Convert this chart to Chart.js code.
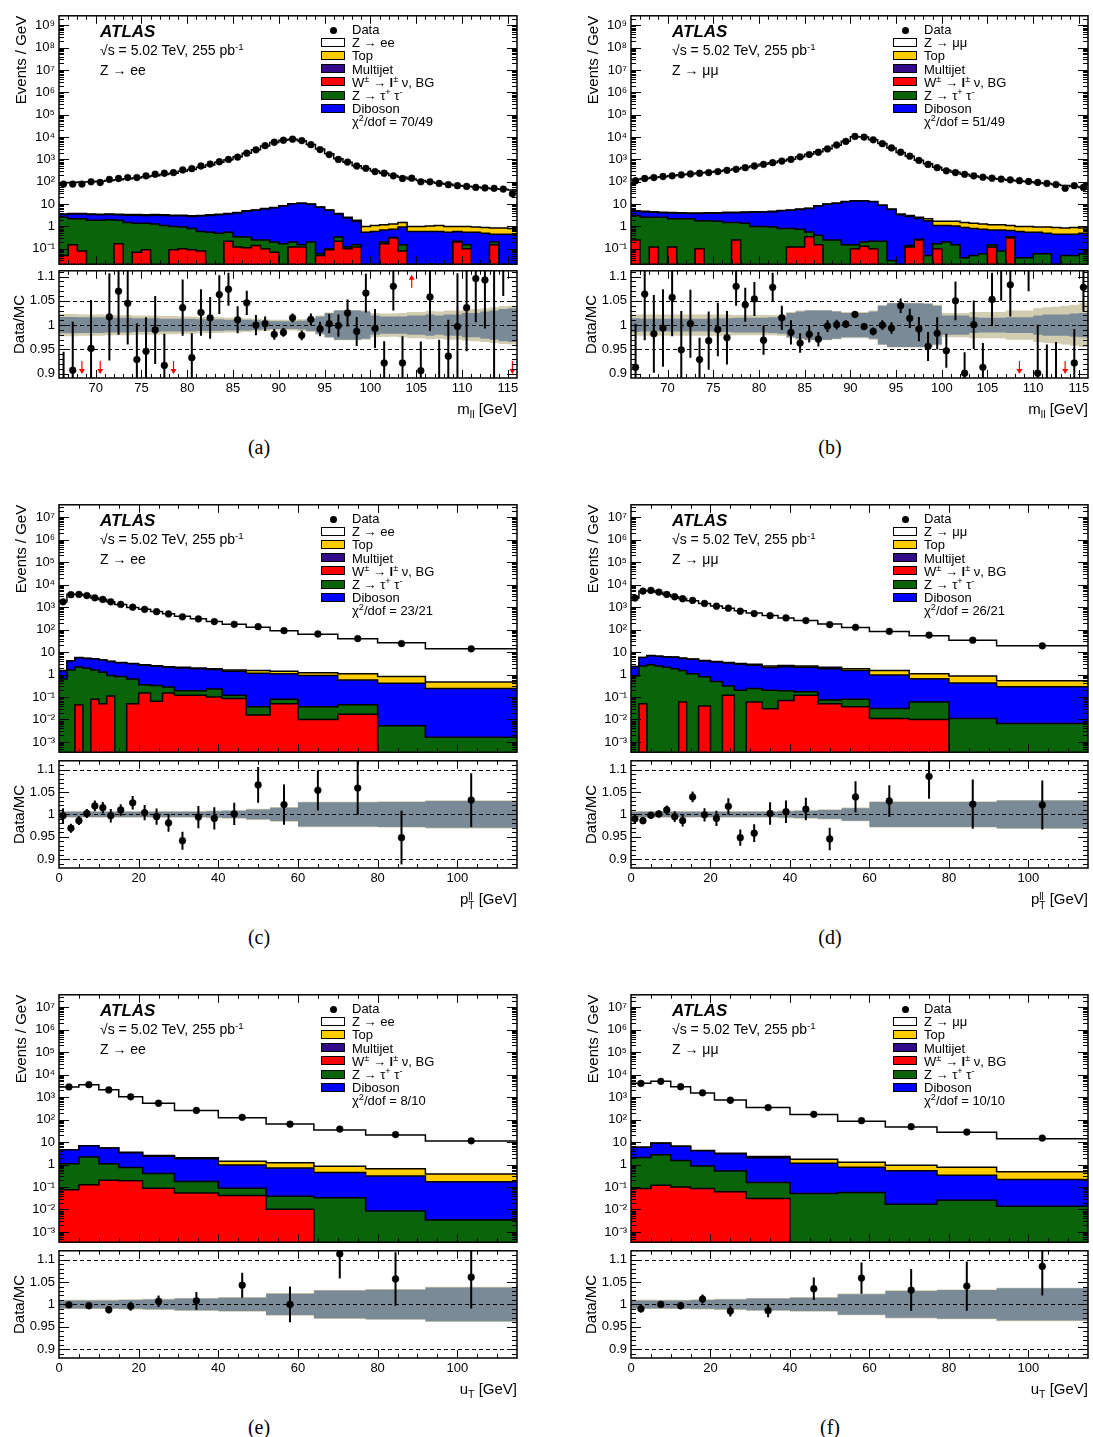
<!DOCTYPE html>
<html>
<head>
<meta charset="utf-8">
<title>Z boson control distributions</title>
<script src="https://cdn.jsdelivr.net/npm/chart.js@4.4.1/dist/chart.umd.min.js"></script>
<style>
  body { margin: 0; width: 1093px; height: 1437px; position: relative; background: #fff; overflow: hidden;
         font-family: "Liberation Sans", Arial, Helvetica, sans-serif; color: #000; }
  canvas { position: absolute; }
  .t { position: absolute; white-space: nowrap; }
  .t sup { font-size: 70%; vertical-align: 0.5em; line-height: 0; }
  .t sub { font-size: 70%; vertical-align: -0.35em; line-height: 0; }
  .box { position: absolute; width: 22px; height: 7px; border: 1.5px solid #000; }
  .dot { position: absolute; width: 7px; height: 7px; border-radius: 50%; background: #000; }
</style>
</head>
<body>
<script>
// bin edges
const massEdges = [66,67,68,69,70,71,72,73,74,75,76,77,78,79,80,81,82,83,84,85,86,87,88,89,90,91,92,93,94,95,96,97,98,99,100,101,102,103,104,105,106,107,108,109,110,111,112,113,114,115,116];
const ptEdges = [0,2,4,6,8,10,12,14,17,20,23,26,29,33,37,41,47,53,60,70,80,92,115];
const utEdges = [0,5,10,15,21,29,40,52,64,77,92,115];

// (a) Z->ee, m_ll
const dataA = [79,79,79,100,93,127,140,155,155,184, 218,241,258,338,388,508,622,787,1000,1270, 1900,2690,4150,5870,7230,8120,6960,4590,2760,1660, 1000,762,508,400,286,241,184,140,145,100, 100,84,74,67,62,56,53,51,47,29];
const zA = [88,90,93,97,102,110,120,132,146,163, 183,208,240,290,350,445,565,740,970,1300, 1870,2720,3980,5700,7300,8000,6900,4700,2900,1780, 1080,740,515,390,300,240,192,158,132,112, 97,85,76,68,62,57,52,48,45,42];
const topA = [0.2,0.2,0.2,0.2,0.2,0.2,0.2,0.2,0.2,0.2, 0.2,0.2,0.2,0.2,0.2,0.2,0.2,0.2,0.2,0.2, 0.2,0.2,0.2,0.2,0.2,0.2,0.2,0.2,0.2,0.2, 0.2,0.2,0.25,0.45,0.5,0.5,0.55,0.55,0.4,0.4, 0.45,0.5,0.45,0.4,0.45,0.4,0.4,0.4,0.4,0.35];
const wA = [0.05,0.15,0.08,0,0,0,0.17,0,0.07,0.09, 0,0,0.09,0.1,0.09,0.08,0,0,0.22,0.12, 0.11,0.14,0.1,0.07,0,0.12,0.12,0,0.05,0.09, 0.22,0.1,0.12,0,0,0.17,0.3,0.08,0,0, 0,0,0,0.2,0.1,0,0,0.15,0,0];
const tauA = [2.55,2.05,2.12,1.9,1.9,2.0,1.73,1.5,1.33,1.31, 1.3,1.1,0.91,0.85,0.71,0.52,0.55,0.5,0.33,0.23, 0.23,0.11,0.15,0.13,0.17,0.08,0.03,0.2,0.01,0.01, 0.12,0.02,0.03,0.02,0.02,0.03,0.02,0.07,0.02,0.02, 0.02,0.02,0.02,0.02,0.05,0.02,0.02,0.05,0.02,0.02];
const dibA = [0.8,1.4,1.4,1.5,1.4,1.4,1.4,1.7,1.8,1.7, 1.9,2.0,2.0,2.05,2.0,2.3,2.55,2.8,3.05,3.65, 4.46,5.05,5.85,6.6,8.13,10.1,10.65,9.6,7.24,5.2, 3.26,2.28,1.5,0.53,0.58,0.5,0.43,0.8,0.58,0.58, 0.58,0.58,0.53,0.38,0.4,0.53,0.48,0.25,0.43,0.43];
const ratioA = [0.86,0.907,0.82,0.952,0.82,1.017,1.07,1.045,0.929,0.946, 0.99,0.917,0.82,1.036,0.933,1.026,1.015,1.063,1.074,1.011, 1.046,1.0,1.003,0.981,0.985,1.015,0.979,1.012,0.992,1.003, 0.999,1.025,0.987,1.066,0.993,0.922,1.08,0.922,1.2,0.906, 1.058,0.86,0.936,0.997,1.036,1.096,1.093,0.88,1.2,0.8];
const ratioErrA = [0.085,0.1,0.05,0.1,0.05,0.09,0.09,0.085,0.075,0.07, 0.07,0.065,0.05,0.058,0.05,0.048,0.043,0.04,0.034,0.028, 0.025,0.021,0.015,0.011,0.009,0.009,0.01,0.012,0.015,0.02, 0.023,0.028,0.03,0.04,0.04,0.045,0.05,0.055,0.05,0.06, 0.07,0.11,0.075,0.11,0.09,0.09,0.1,0.25,0.14,0.05];
const innerBandA = [0.017,0.017,0.016,0.016,0.016,0.015,0.015,0.015,0.014,0.014, 0.014,0.013,0.013,0.013,0.013,0.012,0.012,0.012,0.011,0.011, 0.011,0.01,0.009,0.008,0.008,0.008,0.009,0.012,0.018,0.025, 0.03,0.03,0.03,0.028,0.02,0.018,0.018,0.018,0.02,0.02, 0.022,0.02,0.022,0.022,0.025,0.025,0.028,0.03,0.033,0.035];
const outerBandA = [0.023,0.023,0.022,0.022,0.022,0.021,0.021,0.021,0.02,0.02, 0.02,0.019,0.019,0.018,0.018,0.017,0.017,0.016,0.015,0.015, 0.014,0.013,0.012,0.011,0.011,0.011,0.012,0.014,0.02,0.026, 0.031,0.031,0.031,0.03,0.025,0.024,0.024,0.025,0.027,0.027, 0.029,0.028,0.03,0.03,0.032,0.033,0.035,0.037,0.039,0.04];

// (b) Z->mumu, m_ll
const dataB = [111,140,155,172,184,204,225,241,258,286, 327,362,429,508,602,714,846,1000,1310,1660, 2100,2970,4430,6420,10700,10000,7590,5100,3270,2100, 1400,900,600,430,310,258,215,184,160,145, 132,122,112,103,93,84,75,51,67,56];
const zB = [120,135,150,165,182,200,220,240,262,292, 325,370,430,505,600,715,850,1020,1300,1680, 2200,3000,4300,6500,10400,10000,7600,5100,3250,2050, 1380,910,640,450,330,265,215,182,158,140, 128,116,106,98,90,82,74,67,61,55];
const topB = [0.2,0.2,0.2,0.2,0.2,0.2,0.2,0.2,0.2,0.2, 0.2,0.2,0.2,0.2,0.2,0.2,0.2,0.2,0.2,0.2, 0.2,0.2,0.2,0.2,0.2,0.2,0.2,0.2,0.2,0.25, 0.3,0.35,0.4,0.6,0.6,0.65,0.6,0.6,0.55,0.5, 0.5,0.45,0.4,0.45,0.4,0.45,0.45,0.4,0.45,0.35];
const wB = [0.25,0,0.12,0,0.12,0,0,0.1,0,0, 0,0.25,0,0,0,0,0,0.12,0.12,0.35, 0.15,0,0,0,0.1,0.13,0.1,0,0,0, 0.12,0.25,0,0.1,0,0,0,0,0,0.12, 0,0.3,0,0,0,0,0,0,0,0];
const tauB = [2.85,2.6,2.48,2.6,2.08,2.2,2.2,1.7,1.8,1.7, 1.5,1.25,1.4,1.0,1.0,0.95,0.8,0.68,0.63,0.21, 0.25,0.25,0.25,0.15,0.05,0.07,0.12,0.22,0.03,0.02, 0.02,0.02,0.05,0.07,0.2,0.15,0.04,0.05,0.06,0.03, 0.08,0.05,0.04,0.04,0.06,0.06,0.02,0.05,0.05,0.06];
const dibB = [1.7,2.0,1.7,1.5,1.8,1.7,1.6,2.0,2.1,2.2, 2.6,2.6,2.8,3.3,3.4,3.65,4.2,4.5,5.05,5.74, 7.9,9.55,10.55,12.65,13.65,13.6,12.58,8.58,5.77,3.33, 2.66,1.98,1.75,0.93,0.9,0.9,0.86,0.75,0.69,0.55, 0.62,0.3,0.56,0.51,0.49,0.44,0.43,0.4,0.4,0.44];
const ratioB = [0.913,1.064,0.982,0.994,1.057,0.949,1.003,0.929,0.968,0.991, 0.974,1.08,1.042,1.054,0.969,1.078,1.015,0.985,0.963,0.981, 0.971,0.998,1.001,1.002,1.022,0.997,0.987,1.0,0.994,1.04, 1.014,0.992,0.956,0.983,0.947,1.05,0.901,1.001,0.913,1.053, 1.16,1.083,0.82,1.17,0.901,0.86,0.86,0.8,0.922,1.078];
const ratioErrB = [0.09,0.095,0.08,0.08,0.08,0.08,0.07,0.045,0.06,0.055, 0.055,0.04,0.035,0.035,0.03,0.03,0.025,0.025,0.02,0.017, 0.015,0.012,0.01,0.008,0.007,0.007,0.008,0.01,0.012,0.015, 0.02,0.025,0.03,0.033,0.035,0.04,0.043,0.05,0.05,0.055, 0.11,0.065,0.05,0.1,0.1,0.1,0.105,0.05,0.07,0.05];
const innerBandB = [0.014,0.013,0.013,0.013,0.013,0.013,0.013,0.013,0.013,0.014, 0.014,0.015,0.015,0.015,0.015,0.016,0.018,0.025,0.028,0.03, 0.03,0.03,0.028,0.025,0.025,0.025,0.028,0.04,0.045,0.045, 0.045,0.045,0.044,0.04,0.02,0.02,0.02,0.016,0.015,0.015, 0.015,0.016,0.016,0.016,0.02,0.022,0.022,0.022,0.024,0.025];
const outerBandB = [0.022,0.022,0.022,0.022,0.022,0.022,0.022,0.022,0.022,0.022, 0.022,0.021,0.021,0.021,0.021,0.021,0.022,0.027,0.03,0.031, 0.031,0.031,0.029,0.027,0.027,0.027,0.03,0.041,0.046,0.046, 0.046,0.046,0.045,0.042,0.025,0.025,0.025,0.027,0.027,0.027, 0.027,0.03,0.03,0.03,0.035,0.037,0.038,0.04,0.042,0.045];

// (c) Z->ee, pT_ll
const dataC = [1730,3600,3700,3280,2600,2200,1730,1330,1000,800,630,500,370,300,228,173,135,90,64,40,24,14];
const zC = [1735,3710,3750,3270,2550,2165,1735,1315,975,795,633,509,393,302,230,173,127,88,61,38,25,13.6];
const topC = [0.04,0.08,0.1,0.1,0.1,0.1,0.1,0.1,0.1,0.12,0.12,0.12,0.15,0.15,0.15,0.2,0.35,0.3,0.3,0.5,0.4,0.22];
const wC = [0,0,0.045,0,0.08,0.05,0.11,0,0.05,0.15,0.065,0.15,0.12,0.12,0.1,0.085,0.016,0.05,0.01,0.017,0,0];
const tauC = [0.64,1.6,2.15,1.9,1.52,1.22,0.79,0.82,0.59,0.2,0.265,0.13,0.07,0.07,0.13,0.035,0.021,0.03,0.027,0.028,0.0053,0.0016];
const dibC = [0.82,2.42,3.4,3.35,3.3,3.13,2.96,2.54,2.36,2.27,2.02,1.84,1.75,1.62,1.45,1.28,1.11,1.02,0.88,0.53,0.41,0.24];
const ratioC = [0.997,0.969,0.986,1.002,1.019,1.015,0.997,1.01,1.026,1.004,0.995,0.981,0.941,0.994,0.991,1.001,1.066,1.022,1.054,1.059,0.948,1.032];
const ratioErrC = [0.017,0.01,0.01,0.01,0.012,0.013,0.015,0.013,0.015,0.017,0.018,0.02,0.02,0.025,0.025,0.025,0.04,0.045,0.045,0.06,0.06,0.06];
const innerBandC = [0.006,0.006,0.006,0.006,0.006,0.006,0.006,0.006,0.006,0.006,0.006,0.006,0.006,0.006,0.007,0.008,0.011,0.015,0.027,0.027,0.028,0.03];
const outerBandC = [0.0075,0.0075,0.0075,0.0075,0.0075,0.0075,0.0075,0.0075,0.0075,0.0075,0.0075,0.0075,0.0075,0.0075,0.0085,0.0095,0.0125,0.0165,0.0285,0.0285,0.0295,0.0315];

// (d) Z->mumu, pT_ll
const dataD = [2530,5200,5550,4670,3680,2900,2370,2000,1460,1110,900,660,520,420,333,253,167,127,84,57,34,19];
const zD = [2550,5270,5560,4660,3640,2910,2400,1925,1460,1120,880,696,543,419,331,250,177,122,82,52,33,18.6];
const topD = [0.04,0.1,0.15,0.15,0.15,0.15,0.15,0.15,0.15,0.15,0.15,0.2,0.3,0.35,0.3,0.3,0.3,0.3,0.55,0.45,0.45,0.25];
const wD = [0,0.05,0,0,0,0,0.06,0,0.04,0,0.12,0,0.06,0.03,0.07,0.12,0.05,0.037,0.011,0.01,0,0];
const tauD = [0.87,2.35,2.7,2.4,2.1,1.8,1.44,1.1,0.76,0.49,0.19,0.2,0.18,0.17,0.12,0.05,0.024,0.043,0.02,0.05,0.011,0.0066];
const dibD = [1.39,3.3,4.25,4.05,3.95,4.05,3.75,3.65,3.25,3.16,2.94,2.7,2.36,1.85,2.01,1.93,1.73,1.42,0.92,0.59,0.41,0.28];
const ratioD = [0.99,0.986,0.998,1.001,1.01,0.995,0.986,1.039,0.999,0.991,1.018,0.948,0.958,1.002,1.006,1.012,0.945,1.039,1.03,1.085,1.023,1.021];
const ratioErrD = [0.01,0.008,0.008,0.008,0.01,0.012,0.013,0.012,0.015,0.017,0.018,0.018,0.02,0.025,0.025,0.025,0.025,0.035,0.035,0.05,0.055,0.055];
const innerBandD = [0.006,0.006,0.006,0.006,0.006,0.006,0.006,0.006,0.006,0.006,0.006,0.006,0.006,0.006,0.007,0.008,0.01,0.014,0.028,0.028,0.028,0.031];
const outerBandD = [0.0075,0.0075,0.0075,0.0075,0.0075,0.0075,0.0075,0.0075,0.0075,0.0075,0.0075,0.0075,0.0075,0.0075,0.0085,0.0095,0.0115,0.0155,0.0295,0.0295,0.0295,0.0325];

// (e) Z->ee, uT
const dataE = [2860,3600,2110,1040,535,257,127,63,38,21.6,11.4];
const zE = [2860,3600,2130,1040,528,253,121,62,33.5,20,10.7];
const topE = [0.05,0.08,0.1,0.12,0.15,0.2,0.45,0.5,0.4,0.35,0.21];
const wE = [0.076,0.125,0.2,0.19,0.089,0.054,0.042,0.0102,0,0,0];
const tauE = [1.02,2.07,0.9,0.55,0.31,0.12,0.047,0.029,0.033,0.0085,0.0034];
const dibE = [3.45,4.6,4.3,2.64,1.95,1.63,0.86,0.66,0.41,0.3,0.17];
const ratioE = [0.999,0.997,0.988,0.996,1.007,1.008,1.043,1.0,1.113,1.057,1.061];
const ratioErrE = [0.007,0.006,0.008,0.01,0.013,0.02,0.028,0.04,0.055,0.06,0.07];
const innerBandE = [0.009,0.009,0.009,0.01,0.011,0.013,0.015,0.024,0.031,0.033,0.038];
const outerBandE = [0.0105,0.0105,0.0105,0.0115,0.0125,0.0145,0.0165,0.0255,0.0325,0.0345,0.0395];

// (f) Z->mumu, uT
const dataF = [4090,5050,2900,1560,730,345,173,90,48.6,28,15.1];
const zF = [4125,5040,2900,1535,738,348,166,84,46.5,26.5,13.7];
const topF = [0.06,0.1,0.1,0.15,0.2,0.3,0.55,0.5,0.4,0.42,0.27];
const wF = [0.087,0.12,0.1,0.087,0.062,0.031,0,0,0,0,0];
const tauF = [2.0,2.58,1.4,0.78,0.46,0.13,0.052,0.057,0.017,0.026,0.014];
const dibF = [3.8,6.2,5.0,3.2,2.5,1.84,1.1,0.71,0.51,0.31,0.2];
const ratioF = [0.99,1.0,0.997,1.012,0.985,0.986,1.035,1.059,1.032,1.041,1.085];
const ratioErrF = [0.008,0.006,0.008,0.01,0.012,0.015,0.025,0.035,0.047,0.055,0.065];
const innerBandF = [0.009,0.009,0.009,0.01,0.011,0.013,0.015,0.023,0.03,0.032,0.036];
const outerBandF = [0.0105,0.0105,0.0105,0.0115,0.0125,0.0145,0.0165,0.0245,0.0315,0.0335,0.0375];

// colours
const colTop = '#ffcc00', colMJ = '#330a88', colW = '#ff0000', colTau = '#0a640a', colDib = '#0000ff';
const colInner = '#7a8b97', colOuter = '#d2ccb0';

Chart.defaults.font.family = '"Liberation Sans", Arial, Helvetica, sans-serif';
Chart.defaults.color = '#000';

const tickFont = { size: 13 };
const titleFont = { size: 15 };
const ee = 'Z → ee', mm = 'Z → μμ';
const mllTitle = 'm<sub>ll</sub> [GeV]';
const ptTitle = 'p<span style="display:inline-block;vertical-align:-5px;line-height:9px;font-size:10px;text-align:left">ll<br>T</span> [GeV]';
const utTitle = 'u<sub>T</sub> [GeV]';

const leftCol = { L: 59, R: 517, legX: 321, capX: 259 };
const rightCol = { L: 631, R: 1088, legX: 893, capX: 830 };
const massAxis = { edges: massEdges, xMin: 66, xMax: 116, xStep: 1, xMajor: 5, yMin: 0.0204, yMax: 2.7e9, rMin: 0.891, rMax: 1.112, refs: [0.95, 1, 1.05] };
const ptAxis = { edges: ptEdges, xMin: 0, xMax: 115, xStep: 5, xMajor: 20, yMin: 3.5e-4, yMax: 3.6e7, rMin: 0.88, rMax: 1.12, refs: [0.9, 1, 1.1] };
const utAxis = Object.assign({}, ptAxis, { edges: utEdges });
const row1 = { mT: 14, mB: 266, rT: 269, rB: 378 };
const row2 = { mT: 503, mB: 754, rT: 759, rB: 868 };
const row3 = { mT: 993, mB: 1244, rT: 1249, rB: 1358 };

const panels = [
  Object.assign({}, leftCol, row1, massAxis, { data: dataA, z: zA, top: topA, w: wA, tau: tauA, dib: dibA, ratio: ratioA, err: ratioErrA,
    inner: innerBandA, outer: outerBandA, chan: ee, chi: '70/49', xTitle: mllTitle, cap: '(a)' }),
  Object.assign({}, rightCol, row1, massAxis, { data: dataB, z: zB, top: topB, w: wB, tau: tauB, dib: dibB, ratio: ratioB, err: ratioErrB,
    inner: innerBandB, outer: outerBandB, chan: mm, chi: '51/49', xTitle: mllTitle, cap: '(b)' }),
  Object.assign({}, leftCol, row2, ptAxis, { data: dataC, z: zC, top: topC, w: wC, tau: tauC, dib: dibC, ratio: ratioC, err: ratioErrC,
    inner: innerBandC, outer: outerBandC, chan: ee, chi: '23/21', xTitle: ptTitle, cap: '(c)' }),
  Object.assign({}, rightCol, row2, ptAxis, { data: dataD, z: zD, top: topD, w: wD, tau: tauD, dib: dibD, ratio: ratioD, err: ratioErrD,
    inner: innerBandD, outer: outerBandD, chan: mm, chi: '26/21', xTitle: ptTitle, cap: '(d)' }),
  Object.assign({}, leftCol, row3, utAxis, { data: dataE, z: zE, top: topE, w: wE, tau: tauE, dib: dibE, ratio: ratioE, err: ratioErrE,
    inner: innerBandE, outer: outerBandE, chan: ee, chi: '8/10', xTitle: utTitle, cap: '(e)' }),
  Object.assign({}, rightCol, row3, utAxis, { data: dataF, z: zF, top: topF, w: wF, tau: tauF, dib: dibF, ratio: ratioF, err: ratioErrF,
    inner: innerBandF, outer: outerBandF, chan: mm, chi: '10/10', xTitle: utTitle, cap: '(f)' })
];

// helpers
// empty bins are pushed far below the axis so the log scale keeps the step (a zero would leave a gap)
function steps(edges, vals) {
  const pts = vals.map((v, i) => ({ x: edges[i], y: v > 0 ? v : 1e-9 }));
  pts.push({ x: edges[edges.length - 1], y: pts[pts.length - 1].y });
  return pts;
}
function centres(edges, vals) {
  return vals.map((v, i) => ({ x: (edges[i] + edges[i + 1]) / 2, y: v }));
}
function stack(...arrs) {
  return arrs[0].map((_, i) => arrs.reduce((s, a) => s + a[i], 0));
}
function sup(n) {
  const m = { '-': '⁻', '0': '⁰', '1': '¹', '2': '²', '3': '³', '4': '⁴', '5': '⁵', '6': '⁶', '7': '⁷', '8': '⁸', '9': '⁹' };
  return String(n).split('').map(c => m[c]).join('');
}
function logLabel(v) {
  const e = Math.round(Math.log10(v));
  if (e === 0) return '1';
  if (e === 1) return '10';
  return '10' + sup(e);
}
function logTicks(min, max) {
  const out = [];
  for (let e = Math.floor(Math.log10(min)); e <= Math.ceil(Math.log10(max)); e++) {
    for (let k = 1; k <= 9; k++) {
      const v = k * Math.pow(10, e);
      if (v >= min && v <= max) out.push({ value: v, major: k === 1 });
    }
  }
  return out;
}
function linTicks(min, max, step, major) {
  const out = [];
  const i0 = Math.ceil(min / step - 1e-6), i1 = Math.floor(max / step + 1e-6);
  const m = Math.round(major / step);
  for (let i = i0; i <= i1; i++) out.push({ value: +(i * step).toFixed(4), major: i % m === 0 });
  return out;
}
function makeCanvas(left, top, w, h) {
  const c = document.createElement('canvas');
  c.width = w; c.height = h;
  c.style.left = left + 'px'; c.style.top = top + 'px';
  c.style.width = w + 'px'; c.style.height = h + 'px';
  document.body.appendChild(c);
  return c;
}
function txt(html, left, cy, size, extra) {
  const d = document.createElement('div');
  d.className = 't';
  d.innerHTML = html;
  d.style.cssText = `left:${left}px;top:${cy - size * 0.6}px;font-size:${size}px;line-height:${size * 1.2}px;` + (extra || '');
  document.body.appendChild(d);
  return d;
}

// frame with inward ticks on all four sides
function frameTicks(yMajorLen, yMinorLen) {
  return {
    id: 'frameTicks',
    afterDatasetsDraw(chart) {
      const { ctx, chartArea: a, scales: { x, y } } = chart;
      ctx.save();
      ctx.strokeStyle = '#000';
      ctx.lineWidth = 1;
      ctx.beginPath();
      x.ticks.forEach(t => {
        const px = Math.round(x.getPixelForValue(t.value)) + 0.5;
        if (px <= a.left + 1 || px >= a.right - 1) return;
        const len = t.major ? 8 : 4;
        ctx.moveTo(px, a.bottom); ctx.lineTo(px, a.bottom - len);
        ctx.moveTo(px, a.top); ctx.lineTo(px, a.top + len);
      });
      y.ticks.forEach(t => {
        const py = Math.round(y.getPixelForValue(t.value)) + 0.5;
        if (py <= a.top + 1 || py >= a.bottom - 1) return;
        const len = t.major ? yMajorLen : yMinorLen;
        ctx.moveTo(a.left, py); ctx.lineTo(a.left + len, py);
        ctx.moveTo(a.right, py); ctx.lineTo(a.right - len, py);
      });
      ctx.stroke();
      ctx.lineWidth = 1.5;
      ctx.strokeRect(a.left, a.top, a.right - a.left, a.bottom - a.top);
      ctx.restore();
    }
  };
}

function arrow(ctx, x, y0, y1) {
  const d = y1 > y0 ? 1 : -1;
  ctx.beginPath(); ctx.moveTo(x, y0); ctx.lineTo(x, y1 - 4 * d); ctx.stroke();
  ctx.beginPath(); ctx.moveTo(x - 3, y1 - 5 * d); ctx.lineTo(x + 3, y1 - 5 * d); ctx.lineTo(x, y1); ctx.closePath(); ctx.fill();
}

// dashed reference lines, error bars and out-of-range arrows
function ratioMarks(refs, errs) {
  return {
    id: 'ratioMarks',
    afterDatasetDraw(chart, args) {
      if (args.index !== 1) return;
      const { ctx, chartArea: a, scales: { x, y } } = chart;
      const pts = chart.data.datasets[0].data;
      ctx.save();
      ctx.beginPath(); ctx.rect(a.left, a.top, a.right - a.left, a.bottom - a.top); ctx.clip();
      ctx.strokeStyle = '#000'; ctx.lineWidth = 1; ctx.setLineDash([4, 3]);
      refs.forEach(r => {
        const py = Math.round(y.getPixelForValue(r)) + 0.5;
        ctx.beginPath(); ctx.moveTo(a.left, py); ctx.lineTo(a.right, py); ctx.stroke();
      });
      ctx.setLineDash([]); ctx.lineWidth = 2;
      pts.forEach((p, i) => {
        const px = x.getPixelForValue(p.x);
        ctx.beginPath();
        ctx.moveTo(px, y.getPixelForValue(p.y - errs[i]));
        ctx.lineTo(px, y.getPixelForValue(p.y + errs[i]));
        ctx.stroke();
      });
      ctx.strokeStyle = '#ff0000'; ctx.fillStyle = '#ff0000'; ctx.lineWidth = 1.2;
      pts.forEach((p, i) => {
        const px = x.getPixelForValue(p.x);
        if (p.y + errs[i] < y.min) arrow(ctx, px, a.bottom - 17, a.bottom - 4);
        else if (p.y - errs[i] > y.max) arrow(ctx, px, a.top + 17, a.top + 4);
      });
      ctx.restore();
    }
  };
}

function layer(edges, vals, colour) {
  return { data: steps(edges, vals), stepped: true, fill: 'start', backgroundColor: colour,
           borderColor: '#000', borderWidth: 1.5, pointRadius: 0 };
}
function band(edges, vals, colour, fill) {
  return { data: steps(edges, vals), stepped: true, fill: fill, backgroundColor: colour,
           borderColor: 'rgba(0,0,0,0)', borderWidth: 0, pointRadius: 0 };
}

function drawMain(p) {
  const w = 58 + (p.R - p.L) + 12, h = (p.mB - p.mT) + 20;
  const cv = makeCanvas(p.L - 58, p.mT - 10, w, h);
  const s1 = p.w;
  const s2 = stack(p.w, p.tau);
  const s3 = stack(p.w, p.tau, p.dib);
  const s4 = stack(p.w, p.tau, p.dib, p.top);
  const s5 = stack(p.w, p.tau, p.dib, p.top, p.z);
  new Chart(cv, {
    type: 'line',
    data: {
      datasets: [
        { data: centres(p.edges, p.data), showLine: false, pointRadius: 3.4, pointBackgroundColor: '#000',
          pointBorderColor: '#000', pointBorderWidth: 0.5 },
        layer(p.edges, s1, colW),
        layer(p.edges, s2, colTau),
        layer(p.edges, s3, colDib),
        layer(p.edges, s4, colTop),
        layer(p.edges, s5, '#ffffff')
      ]
    },
    options: {
      animation: false, responsive: false, devicePixelRatio: 1, events: [],
      layout: { padding: { left: 0, right: 12, top: 10, bottom: 10 } },
      plugins: { legend: { display: false }, tooltip: { enabled: false } },
      scales: {
        x: { type: 'linear', min: p.xMin, max: p.xMax, grid: { display: false, drawTicks: false }, border: { display: false },
             ticks: { display: false },
             afterBuildTicks: s => { s.ticks = linTicks(p.xMin, p.xMax, p.xStep, p.xMajor); },
             afterFit: s => { s.height = 0; } },
        y: { type: 'logarithmic', min: p.yMin, max: p.yMax, grid: { display: false, drawTicks: false }, border: { display: false },
             ticks: { autoSkip: false, padding: 4, font: tickFont, callback: (v, i, t) => (t[i].major ? logLabel(v) : '') },
             afterBuildTicks: s => { s.ticks = logTicks(p.yMin, p.yMax); },
             afterFit: s => { s.width = 58; },
             title: { display: true, text: 'Events / GeV', align: 'end', font: titleFont, padding: { top: 12, bottom: 0 } } }
      }
    },
    plugins: [frameTicks(10, 5)]
  });
}

function drawRatio(p) {
  const w = 58 + (p.R - p.L) + 12, h = (p.rB - p.rT) + 10 + 26;
  const cv = makeCanvas(p.L - 58, p.rT - 10, w, h);
  new Chart(cv, {
    type: 'line',
    data: {
      datasets: [
        { data: centres(p.edges, p.ratio), showLine: false, pointRadius: 3.4, pointBackgroundColor: '#000',
          pointBorderColor: '#000', pointBorderWidth: 0.5 },
        band(p.edges, p.inner.map(u => 1 + u), colInner, '+1'),
        band(p.edges, p.inner.map(u => 1 - u), colInner, false),
        band(p.edges, p.outer.map(u => 1 + u), colOuter, '+1'),
        band(p.edges, p.outer.map(u => 1 - u), colOuter, false)
      ]
    },
    options: {
      animation: false, responsive: false, devicePixelRatio: 1, events: [],
      layout: { padding: { left: 0, right: 12, top: 10, bottom: 0 } },
      plugins: { legend: { display: false }, tooltip: { enabled: false } },
      scales: {
        x: { type: 'linear', min: p.xMin, max: p.xMax, grid: { display: false, drawTicks: false }, border: { display: false },
             ticks: { autoSkip: false, maxRotation: 0, minRotation: 0, padding: 3, font: tickFont,
                      callback: (v, i, t) => (t[i].major ? String(v) : '') },
             afterBuildTicks: s => { s.ticks = linTicks(p.xMin, p.xMax, p.xStep, p.xMajor); },
             afterFit: s => { s.height = 26; } },
        y: { type: 'linear', min: p.rMin, max: p.rMax, grid: { display: false, drawTicks: false }, border: { display: false },
             ticks: { autoSkip: false, padding: 4, font: tickFont,
                      callback: (v, i, t) => (t[i].major ? String(Math.round(v * 100) / 100) : '') },
             afterBuildTicks: s => { s.ticks = linTicks(p.rMin, p.rMax, 0.01, 0.05); },
             afterFit: s => { s.width = 58; },
             title: { display: true, text: 'Data/MC', align: 'center', font: titleFont, padding: { top: 10, bottom: 0 } } }
      }
    },
    plugins: [frameTicks(10, 5), ratioMarks(p.refs, p.err)]
  });
}

function drawText(p) {
  txt('ATLAS', p.L + 41, p.mT + 18, 17, 'font-weight:bold;font-style:italic;');
  txt('√s = 5.02 TeV, 255 pb<sup>-1</sup>', p.L + 41, p.mT + 36, 14);
  txt(p.chan, p.L + 41, p.mT + 56, 14);
  const rows = [
    ['dot', 'Data'], ['#ffffff', p.chan], [colTop, 'Top'], [colMJ, 'Multijet'],
    [colW, 'W<sup>±</sup> → <b>l</b><sup>±</sup> ν, BG'], [colTau, 'Z → τ<sup>+</sup> τ<sup>-</sup>'],
    [colDib, 'Diboson'], [null, 'χ<sup>2</sup>/dof = ' + p.chi]
  ];
  rows.forEach((r, k) => {
    const cy = p.mT + 16 + 13.1 * k;
    if (r[0] === 'dot') {
      const d = document.createElement('div');
      d.className = 'dot';
      d.style.left = (p.legX + 9) + 'px'; d.style.top = (cy - 3.5) + 'px';
      document.body.appendChild(d);
    } else if (r[0]) {
      const b = document.createElement('div');
      b.className = 'box';
      b.style.left = p.legX + 'px'; b.style.top = (cy - 5) + 'px'; b.style.background = r[0];
      document.body.appendChild(b);
    }
    txt(r[1], p.legX + 31, cy, 13);
  });
  txt(p.xTitle, p.R - 200, p.rB + 31, 15, 'width:200px;text-align:right;');
  txt(p.cap, p.capX - 30, p.rB + 69, 20, 'width:60px;text-align:center;font-family:"Liberation Serif","Times New Roman",serif;');
}

panels.forEach(p => { drawMain(p); drawRatio(p); drawText(p); });
</script>
</body>
</html>
